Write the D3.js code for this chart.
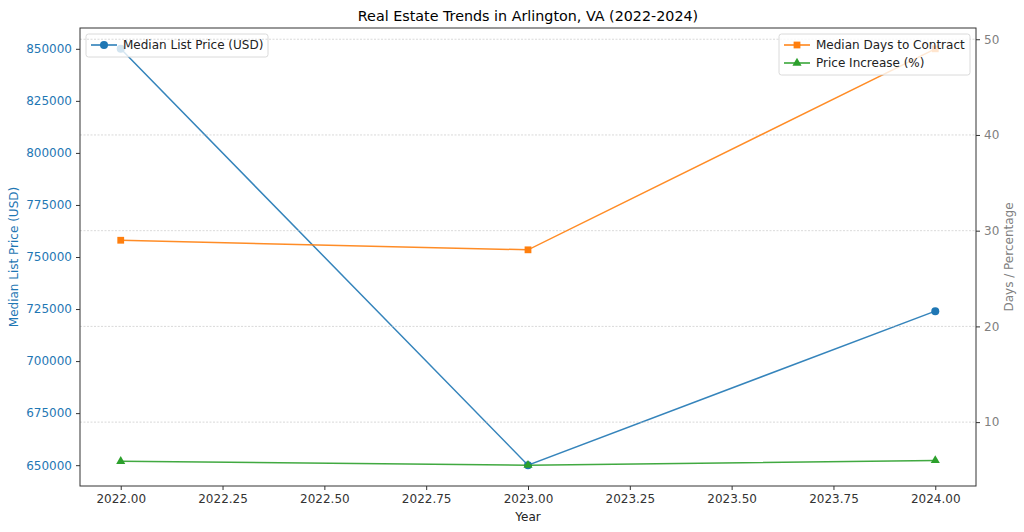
<!DOCTYPE html>
<html><head><meta charset="utf-8">
<script src="https://cdn.jsdelivr.net/npm/d3@7"></script>
<style>body{margin:0;background:#fff}svg{display:block;font-family:"DejaVu Sans",sans-serif}</style>
</head><body><svg id="c" width="1024" height="532"></svg>
<script>
const years = [2022, 2023, 2024];
const listPrice = [850000, 650000, 724000];
const daysToContract = [29, 28, 49];
const priceIncrease = [5.9, 5.5, 6.0];
const xTicks = [2022.00, 2022.25, 2022.50, 2022.75, 2023.00, 2023.25, 2023.50, 2023.75, 2024.00];
const leftTicks = [650000, 675000, 700000, 725000, 750000, 775000, 800000, 825000, 850000];
const rightTicks = [10, 20, 30, 40, 50];

const svg = d3.select("#c");
const L = 80, R = 976, T = 28, B = 486;
const x = d3.scaleLinear().domain([2021.9, 2024.1]).range([L, R]);
const yL = d3.scaleLinear().domain([640000, 860000]).range([B, T]);
const yR = d3.scaleLinear().domain([3.325, 51.175]).range([B, T]);
const blue = "#1f77b4", orange = "#ff7f0e", green = "#2ca02c", gray = "#808080";
const fs = 12;

// axes
const gx = svg.append("g").attr("transform", `translate(0,${B})`)
  .call(d3.axisBottom(x).tickValues(xTicks).tickFormat(d3.format(".2f")).tickSize(4).tickPadding(4));
const gl = svg.append("g").attr("transform", `translate(${L},0)`)
  .call(d3.axisLeft(yL).tickValues(leftTicks).tickFormat(d3.format("d")).tickSize(4).tickPadding(4));
const gr = svg.append("g").attr("transform", `translate(${R},0)`)
  .call(d3.axisRight(yR).tickValues(rightTicks).tickFormat(d3.format("d")).tickSize(4).tickPadding(4));
[gx, gl, gr].forEach(g => {
  g.select(".domain").remove();
  g.selectAll("text").attr("font-size", fs).attr("font-family", "DejaVu Sans");
  g.selectAll("line").attr("stroke", "#333");
});
gx.selectAll("text").attr("fill", "#333");
gl.selectAll("text").attr("fill", blue);
gr.selectAll("text").attr("fill", gray);

// labels
svg.append("text").attr("x", (L + R) / 2).attr("y", 21).attr("text-anchor", "middle")
  .attr("font-size", 14.3).attr("fill", "#000").text("Real Estate Trends in Arlington, VA (2022-2024)");
svg.append("text").attr("x", (L + R) / 2).attr("y", 521).attr("text-anchor", "middle")
  .attr("font-size", fs).attr("fill", "#222").text("Year");
svg.append("text").attr("transform", `translate(18,${(T + B) / 2}) rotate(-90)`).attr("text-anchor", "middle")
  .attr("font-size", fs).attr("fill", blue).text("Median List Price (USD)");
svg.append("text").attr("transform", `translate(1013,${(T + B) / 2}) rotate(-90)`).attr("text-anchor", "middle")
  .attr("font-size", fs).attr("fill", gray).text("Days / Percentage");

const sq = d3.symbol().type(d3.symbolSquare).size(46);
const tri = d3.symbol().type(d3.symbolTriangle).size(36);

function series(vals, y, color, marker) {
  const pts = years.map((yr, i) => [x(yr), y(vals[i])]);
  svg.append("path").attr("d", d3.line()(pts)).attr("fill", "none")
    .attr("stroke", color).attr("stroke-width", 1.5).attr("opacity", 0.9);
  const g = svg.append("g");
  pts.forEach(p => {
    if (marker === "o") g.append("circle").attr("cx", p[0]).attr("cy", p[1]).attr("r", 4).attr("fill", color);
    else g.append("path").attr("d", marker === "s" ? sq() : tri())
      .attr("transform", `translate(${p[0]},${p[1]})`).attr("fill", color);
  });
}

function legend(x0, y0, w, items) {
  const g = svg.append("g");
  g.append("rect").attr("x", x0).attr("y", y0).attr("width", w).attr("height", 5 + items.length * 18)
    .attr("rx", 2.5).attr("fill", "rgba(255,255,255,0.8)").attr("stroke", "#d0d0d0").attr("stroke-width", 0.8);
  items.forEach((it, i) => {
    const cy = y0 + 11 + i * 18;
    g.append("line").attr("x1", x0 + 5).attr("x2", x0 + 31).attr("y1", cy).attr("y2", cy)
      .attr("stroke", it.c).attr("stroke-width", 1.5);
    if (it.m === "o") g.append("circle").attr("cx", x0 + 18).attr("cy", cy).attr("r", 4).attr("fill", it.c);
    else g.append("path").attr("d", it.m === "s" ? sq() : tri()).attr("transform", `translate(${x0 + 18},${cy})`).attr("fill", it.c);
    g.append("text").attr("x", x0 + 37).attr("y", cy + 4.3).attr("font-size", fs).attr("fill", "#222").text(it.t);
  });
}

series(listPrice, yL, blue, "o");
legend(86, 34, 182, [{t: "Median List Price (USD)", c: blue, m: "o"}]);

// grid (right axis)
svg.append("g").selectAll("line").data(rightTicks).join("line")
  .attr("x1", L).attr("x2", R).attr("y1", d => yR(d)).attr("y2", d => yR(d))
  .attr("stroke", "#c0c0c0").attr("stroke-width", 0.6).attr("stroke-dasharray", "2,1.5");

series(daysToContract, yR, orange, "s");
series(priceIncrease, yR, green, "^");
legend(779, 34, 191, [{t: "Median Days to Contract", c: orange, m: "s"}, {t: "Price Increase (%)", c: green, m: "^"}]);

// frame
svg.append("rect").attr("x", L).attr("y", T).attr("width", R - L).attr("height", B - T)
  .attr("fill", "none").attr("stroke", "#333").attr("stroke-width", 1);
</script></body></html>
